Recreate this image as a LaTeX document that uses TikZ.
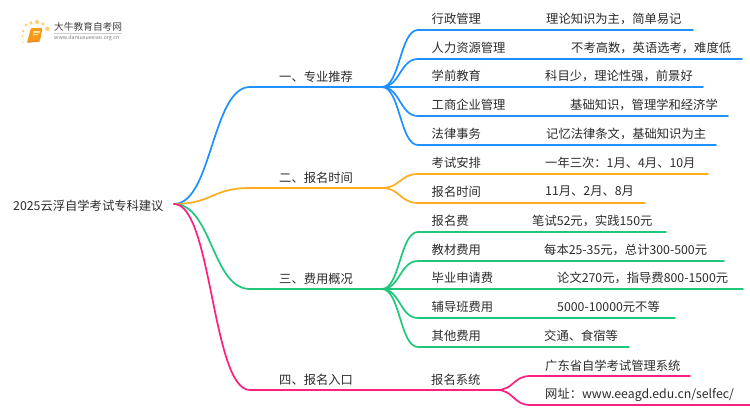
\documentclass[tikz,border=0pt]{standalone}
\usepackage{fontspec}
\setmainfont{Noto Sans CJK SC}
\definecolor{cblue}{HTML}{1E90FF}
\definecolor{corange}{HTML}{FFAD1F}
\definecolor{cgreen}{HTML}{1FC77A}
\definecolor{cpink}{HTML}{FF1F80}
\definecolor{ctext}{HTML}{2B2B2B}
\definecolor{cdot}{HTML}{FFD27A}
\definecolor{cbook}{HTML}{F59A1B}
\definecolor{cbookd}{HTML}{E9800F}
\definecolor{cpage}{HTML}{FFE2A8}
\tikzset{
  txt/.style={anchor=west,inner sep=0pt,text=ctext,font=\fontsize{12.3}{14}\selectfont},
  edge/.style={line width=1.7pt,line cap=round},
  sig/.style={to path={.. controls ($(\tikztostart)!.5!(\tikztotarget|-\tikztostart)$) and ($(\tikztotarget)!.5!(\tikztostart|-\tikztotarget)$) .. (\tikztotarget)}}
}
\usetikzlibrary{calc}
\begin{document}
\begin{tikzpicture}[x=1pt,y=-1pt]
\useasboundingbox (0,0) rectangle (750,410);
% logo
\foreach \n/\a/\b/\s in {d1/26/25/3.2,d2/31/23/3.8,d3/37/22/4.2,d4/43/24/3.8,d5/47.5/29/4.6,d6/23/31/2.8,d7/22.5/36/2.2,d8/23/42/1.6}
  \node[circle,fill=cdot,inner sep=0pt,minimum size=\s pt] (\n) at (\a,\b) {};
\path[fill=cbook,rounded corners=1pt] (31,28) -- (42.5,28) -- (40,41) -- (27,42.5) -- cycle;
\path[fill=cpage] (33.5,31) -- (40,31) -- (39.5,33) -- (33,33) -- cycle;
\path[fill=cpage] (33,34) -- (38,34) -- (37.7,35) -- (32.8,35) -- cycle;
\draw[line width=1pt,cbookd] (27.5,42.2) -- (39.5,41);
\draw[gray!40,line width=.5pt] (54,33) -- (122,33);
\node[anchor=west,inner sep=0pt,text=ctext!90,font=\fontsize{9.7}{11}\selectfont] (logotext) at (54,27) {大牛教育自考网};
\node[anchor=west,inner sep=0pt,text=gray,font=\fontsize{5.4}{6}\selectfont] (logourl) at (54,38.5) {www.daniuxuexiao.org.cn};
% root
\node[txt] (root) at (13,206) {2025云浮自学考试专科建议};
\coordinate (r) at (174,204);
% level 1 labels
\node[txt] (m1) at (279,76.5) {一、专业推荐};
\node[txt] (m2) at (279,177.5) {二、报名时间};
\node[txt] (m3) at (279,278.5) {三、费用概况};
\node[txt] (m4) at (279,379.5) {四、报名入口};
\foreach \c/\y/\x/\n in {cblue/87/382/a,corange/188/382/b,cgreen/289/382/c,cpink/390/497/d}{
  \coordinate (\n s) at (250,\y);
  \coordinate (\n j) at (\x,\y);
  \draw[edge,\c] (r) to[sig] (\n s) -- (\n j);
}
% leaves
\foreach \n/\j/\c/\y/\e/\lab/\dx/\det in {
 a1/a/cblue/30/693/行政管理/546/{理论知识为主，简单易记},
 a2/a/cblue/59/742/人力资源管理/571/{不考高数，英语选考，难度低},
 a3/a/cblue/87/703/学前教育/545/{科目少，理论性强，前景好},
 a4/a/cblue/116/728/工商企业管理/570/{基础知识，管理学和经济学},
 a5/a/cblue/145/716/法律事务/546/{记忆法律条文，基础知识为主},
 b1/b/corange/174/708/考试安排/545/{一年三次：1月、4月、10月},
 b2/b/corange/203/645/报名时间/545/{11月、2月、8月},
 c1/c/cgreen/232/666/报名费/532/{笔试52元，实践150元},
 c2/c/cgreen/261/724/教材费用/544/{每本25-35元，总计300-500元},
 c3/c/cgreen/289/743/毕业申请费/557/{论文270元，指导费800-1500元},
 c4/c/cgreen/318/675/辅导班费用/557/{5000-10000元不等},
 c5/c/cgreen/347/629/其他费用/544/{交通、食宿等}}{
  \coordinate (\n s) at (418,\y);
  \coordinate (\n e) at (\e,\y);
  \draw[edge,\c] (\j j) to[sig] (\n s) -- (\n e);
  \node[txt] (\n l) at (431.5,\y-11.5) {\lab};
  \node[txt] (\n d) at (\dx,\y-11.5) {\det};
}
% pink leaves
\node[txt] (d0l) at (431,379.5) {报名系统};
\node[txt] (d1d) at (545,365.5) {广东省自学考试管理系统};
\node[txt] (d2d) at (545,394.5) {网址：www.eeagd.edu.cn/selfec/};
\coordinate (d1s) at (530,376); \coordinate (d1e) at (690,376);
\coordinate (d2s) at (530,405); \coordinate (d2e) at (750,405);
\draw[edge,cpink] (dj) to[sig] (d1s) -- (d1e);
\draw[edge,cpink] (dj) to[sig] (d2s) -- (d2e);
\end{tikzpicture}
\end{document}
